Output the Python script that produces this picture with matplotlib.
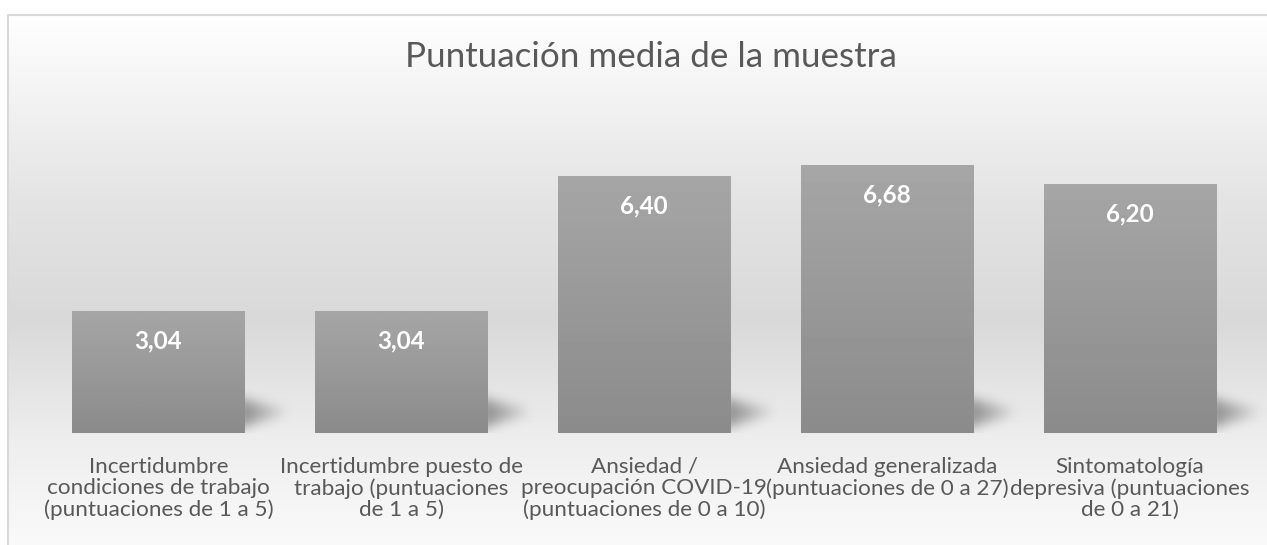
import matplotlib.pyplot as plt
import numpy as np
from matplotlib.lines import Line2D

plt.rcParams['font.family'] = ['Lato', 'DejaVu Sans']

title = 'Puntuación media de la muestra'
categories = [
    'Incertidumbre\ncondiciones de trabajo\n(puntuaciones de 1 a 5)',
    'Incertidumbre puesto de\ntrabajo (puntuaciones\nde 1 a 5)',
    'Ansiedad /\npreocupación COVID-19\n(puntuaciones de 0 a 10)',
    'Ansiedad generalizada\n(puntuaciones de 0 a 27)',
    'Sintomatología\ndepresiva (puntuaciones\nde 0 a 21)',
]
values = [3.04, 3.04, 6.40, 6.68, 6.20]
value_labels = ['3,04', '3,04', '6,40', '6,68', '6,20']

W, H = 1267, 545
fig = plt.figure(figsize=(W / 100, H / 100), dpi=100)

# background: vertical gradient inside the chart frame, white outside
shade = np.interp(np.arange(H), [14, 200, 320, 440, 545], [255, 228, 217, 238, 250]) / 255.0
bg = np.repeat(shade[:, None], W, axis=1)
bg[:14, :] = 1.0
bg[:, :7] = 1.0
fig.figimage(np.dstack([bg, bg, bg]), xo=0, yo=0, origin='upper', zorder=-2)
fig.add_artist(Line2D([7.5 / W, 7.5 / W, 1], [0, 1 - 14.5 / H, 1 - 14.5 / H],
                      transform=fig.transFigure, color='#d9d9d9', lw=1.5, zorder=-1))

# main axes: baseline at y=433px, 40.1 px per unit
spacing = 242.9
left = 158.5 - spacing / 2
ax = fig.add_axes([left / W, (H - 433) / H, 5 * spacing / W, 8 * 40.1 / H])
ax.patch.set_alpha(0)
x = np.arange(len(values))

width = 0.712
bars = ax.bar(x, values, width=width, color='none', edgecolor='none', zorder=3)
px_y = 8 / (8 * 40.1)   # data units per pixel (y)
px_x = 1 / spacing       # data units per pixel (x)

# soft shadow mask (right side, near the base)
sw, sh = 64, 50
yy, xx = np.mgrid[0:sh, 0:sw]
u = xx / 46.0
hy = sh - 1 - yy  # height above baseline in px
lo = 4 + 14 * u
hi = 35 - 12 * u
mask = ((hy >= lo) & (hy <= hi) & (u <= 1)).astype(float) * (1 - 0.75 * u)
k = np.ones(13) / 13
for _ in range(2):
    mask = np.apply_along_axis(lambda r: np.convolve(r, k, mode='same'), 1, mask)
    mask = np.apply_along_axis(lambda c: np.convolve(c, k, mode='same'), 0, mask)
shadow = np.zeros((sh, sw, 4))
shadow[..., :3] = 0.5
shadow[..., 3] = np.clip(mask * 0.9, 0, 1)

for b, v, lab in zip(bars, values, value_labels):
    x0 = b.get_x()
    x1 = x0 + b.get_width()
    ax.imshow(shadow, extent=[x1 - 8 * px_x, x1 + (sw - 8) * px_x, 0, sh * px_y],
              aspect='auto', zorder=2, interpolation='bilinear', clip_on=False)
    g = np.linspace(0.545, 0.65, 64)[:, None]
    im = ax.imshow(np.repeat(g, 2, axis=1)[::-1], cmap='gray', vmin=0, vmax=1,
                   extent=[x0, x1, 0, v], aspect='auto', zorder=3, origin='upper')
    im.set_clip_path(b)
    ax.text(b.get_x() + b.get_width() / 2, v - 30 * px_y, lab, ha='center', va='center',
            color='white', fontsize=17.5, fontweight='bold', zorder=4)

ax.set_xlim(-0.5, len(values) - 0.5)
ax.set_ylim(0, 8)
ax.set_xticks(x)
ax.set_xticklabels(categories, fontsize=16.2, color='#595959', linespacing=1.09)
ax.tick_params(axis='x', length=0, pad=17)
ax.set_yticks([])
for s in ax.spines.values():
    s.set_visible(False)

fig.text(651 / W, 1 - 57 / H, title, ha='center', va='center', fontsize=25.2, color='#595959')

fig.savefig('out.png', dpi=100)
